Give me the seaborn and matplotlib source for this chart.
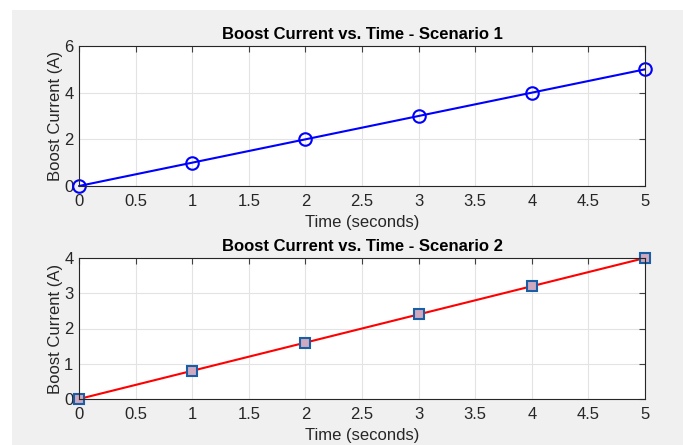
import matplotlib
matplotlib.use('Agg')
import matplotlib.pyplot as plt
from matplotlib.patches import Rectangle
import seaborn as sns
import numpy as np

time_s = [0, 1, 2, 3, 4, 5]
current_1 = [0, 1, 2, 3, 4, 5]
current_2 = [0, 0.8, 1.6, 2.4, 3.2, 4.0]
x_ticks = [0, 0.5, 1, 1.5, 2, 2.5, 3, 3.5, 4, 4.5, 5]
y_ticks_1 = [0, 2, 4, 6]
y_ticks_2 = [0, 1, 2, 3, 4]

sns.set_style('white')
plt.rcParams['font.family'] = ['Liberation Sans', 'DejaVu Sans']

fig = plt.figure(figsize=(6.83, 4.45), dpi=100, facecolor='white')
# matlab figure grey area (screenshot has a white strip left/top)
fig.patches.append(Rectangle((12 / 683, 0), 1, 1 - 10 / 445, transform=fig.transFigure,
                             facecolor='#f0f0f0', edgecolor='none', zorder=-10))

ax1 = fig.add_axes([79 / 683, 1 - 186 / 445, 566 / 683, 140 / 445])
ax2 = fig.add_axes([79 / 683, 1 - 399 / 445, 566 / 683, 141 / 445])

sns.lineplot(x=time_s, y=current_1, ax=ax1, color='#0000ff', lw=1.5, marker='o', ms=9,
             markerfacecolor='none', markeredgecolor='#0000ff', markeredgewidth=1.5, clip_on=False)
sns.lineplot(x=time_s, y=current_2, ax=ax2, color='#ff0000', lw=1.5, marker='s', ms=7,
             markerfacecolor='#cfa9c0', markeredgecolor='#1a5fa5', markeredgewidth=1.5, clip_on=False)

for ax, yt, title in [(ax1, y_ticks_1, 'Boost Current vs. Time - Scenario 1'),
                      (ax2, y_ticks_2, 'Boost Current vs. Time - Scenario 2')]:
    ax.set_facecolor('white')
    ax.set_xlim(0, 5)
    ax.set_ylim(yt[0], yt[-1])
    ax.set_xticks(x_ticks)
    ax.set_xticklabels(['%g' % t for t in x_ticks])
    ax.set_yticks(yt)
    ax.grid(True, color='#e3e3e3', lw=0.8)
    ax.set_axisbelow(True)
    for s in ax.spines.values():
        s.set_visible(True)
        s.set_color('#262626')
        s.set_linewidth(0.8)
    ax.tick_params(direction='in', top=True, right=True, length=4, width=0.8,
                   color='#404040', labelsize=12, labelcolor='#262626', pad=4)
    ax.tick_params(axis='x', pad=6)
    ax.set_xlabel('Time (seconds)', fontsize=12, color='#262626', labelpad=4)
    ax.set_ylabel('Boost Current (A)', fontsize=12, color='#262626')
    ax.yaxis.set_label_coords(-16 / 566, 0.5)
    ax.set_title(title, fontsize=12, fontweight='bold', color='black', pad=5)

fig.savefig('out.png', dpi=100, facecolor=fig.get_facecolor())
